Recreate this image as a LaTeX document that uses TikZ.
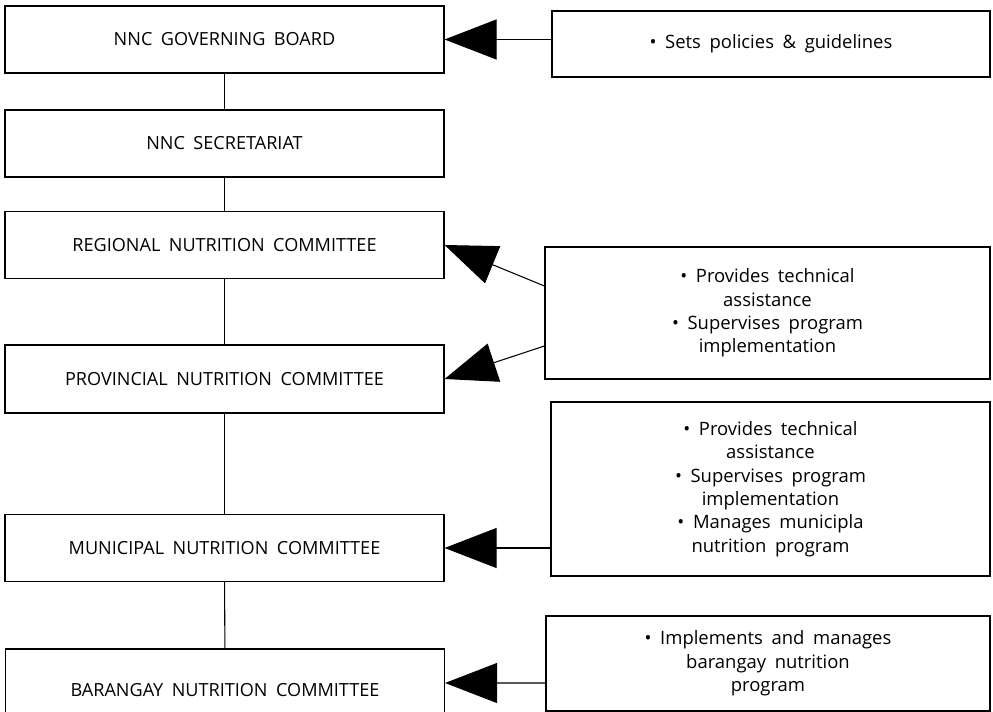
\documentclass[tikz,border=0pt]{standalone}
\usepackage{fontspec}
\setmainfont[WordSpace=1.8]{Open Sans}
\usetikzlibrary{arrows.meta}

\begin{document}
\begin{tikzpicture}[x=0.02cm,y=-0.02cm,
  box/.style={draw,line width=0.7pt,inner sep=0pt,align=center},
  org/.style={box,minimum width=8.78cm,minimum height=1.34cm,
    font=\fontsize{10.3}{12}\selectfont},
  task/.style={box,font=\fontsize{10.5}{13.3}\selectfont},
  arr/.style={line width=0.6pt,-{Triangle[length=1.04cm,width=0.8cm]}},
  link/.style={line width=0.6pt}]
\useasboundingbox (0,0) rectangle (993,712);

% committees
\node[org](GB) at (224.5,39.5){NNC GOVERNING BOARD};
\node[org](SEC) at (224.5,143.5){NNC SECRETARIAT};
\node[org](REG) at (224.5,245){REGIONAL NUTRITION COMMITTEE};
\node[org,minimum height=1.36cm](PROV) at (224.5,379){PROVINCIAL NUTRITION COMMITTEE};
\node[org](MUN) at (224.5,548){MUNICIPAL NUTRITION COMMITTEE};
\node[org,minimum height=1.64cm](BRGY) at (225,690){BARANGAY NUTRITION COMMITTEE};

% functions
\node[task,minimum width=8.76cm,minimum height=1.32cm](T0) at (771,44)
  {• Sets policies \& guidelines};
\node[task,minimum width=8.9cm,minimum height=2.64cm](T1) at (767.5,313)
  {• Provides technical\\assistance\\• Supervises program\\implementation};
\node[task,minimum width=8.78cm,minimum height=3.48cm](T2) at (770.5,489)
  {• Provides technical\\assistance\\• Supervises program\\implementation\\
   • Manages municipla\\nutrition program};
\node[task,minimum width=8.88cm,minimum height=1.9cm](T3) at (768,663.5)
  {• Implements and manages\\barangay nutrition\\program};

\draw[link](GB) -- (SEC);
\draw[link](SEC) -- (REG);
\draw[link](REG) -- (PROV);
\draw[link](PROV) -- (MUN);
\draw[link](MUN) -- (BRGY);

\draw[arr](T0.west |- GB.east) -- (GB.east);
\draw[arr]([yshift=0.54cm]T1.west) -- (REG.east);
\draw[arr]([yshift=-0.66cm]T1.west) -- (PROV.east);
\draw[arr](T2.west |- MUN.east) -- (MUN.east);
\draw[arr]([yshift=-0.39cm]T3.west) -- ([yshift=0.14cm]BRGY.east);

\end{tikzpicture}
\end{document}
